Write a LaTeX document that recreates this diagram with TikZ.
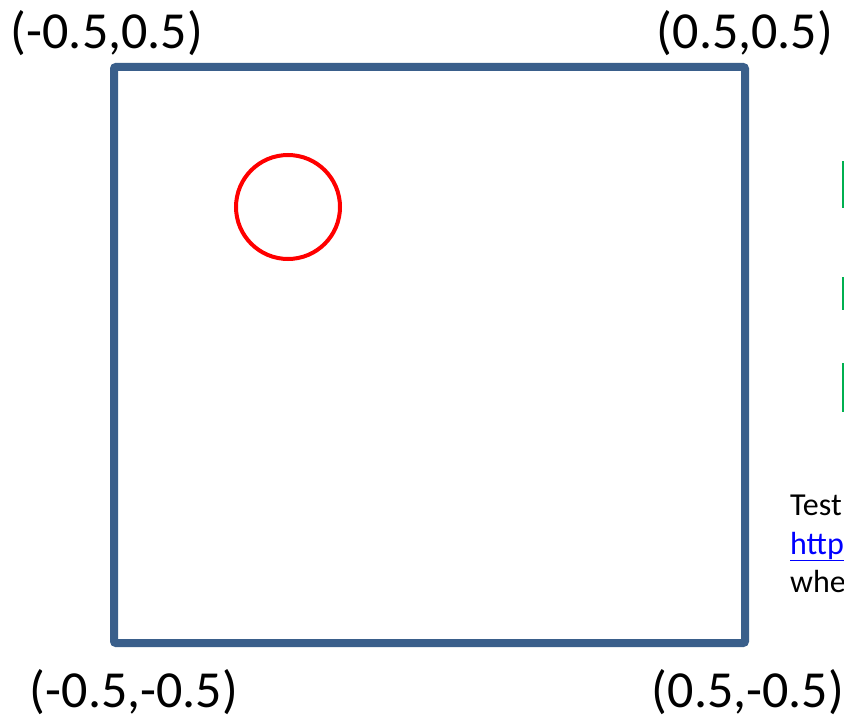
\documentclass[tikz,border=0pt]{standalone}
\usepackage{fontspec}
\setmainfont{Carlito}
\definecolor{boxblue}{HTML}{3A5F8B}
\definecolor{bargreen}{HTML}{00B050}
\definecolor{linkblue}{HTML}{0000FF}
\begin{document}
\begin{tikzpicture}[x=1pt,y=-1pt,
  corner/.style={inner sep=0pt,font=\fontsize{52}{62}\selectfont},
  note/.style={inner sep=0pt,anchor=base west,font=\fontsize{32}{38}\selectfont},
  bar/.style={draw=bargreen,line width=2.5pt}]
\useasboundingbox (0,0) rectangle (844,717);
\clip (0,0) rectangle (844,717);
\draw[boxblue,line width=8pt,rounded corners=2pt] (114,67) rectangle (745,643);
\node[draw=red,line width=4pt,circle,minimum size=104pt,inner sep=0pt] (c) at (288,207) {};
\node[corner] (tl) at (107,33) {(-0.5,0.5)};
\node[corner] (tr) at (745,33) {(0.5,0.5)};
\node[corner] (bl) at (134,692) {(-0.5,-0.5)};
\node[corner] (br) at (748,692) {(0.5,-0.5)};
\coordinate (g1a) at (843,161); \coordinate (g1b) at (843,208);
\coordinate (g2a) at (843,277); \coordinate (g2b) at (843,310);
\coordinate (g3a) at (843,363); \coordinate (g3b) at (843,412);
\draw[bar] (g1a) -- (g1b);
\draw[bar] (g2a) -- (g2b);
\draw[bar] (g3a) -- (g3b);
\node[note] (t1) at (790,515) {Test};
\node[note,text=linkblue] (t2) at (790,554) {\underline{http}};
\node[note] (t3) at (790,592) {whe};
\end{tikzpicture}
\end{document}
